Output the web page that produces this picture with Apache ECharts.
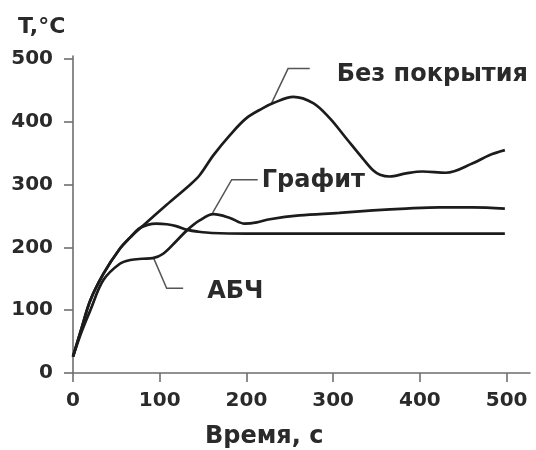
<!DOCTYPE html>
<html>
<head>
<meta charset="utf-8">
<script src="https://cdn.jsdelivr.net/npm/echarts@6/dist/echarts.min.js"></script>
<style>
  html, body { margin: 0; padding: 0; background: #fff; }
  #chart { width: 536px; height: 450px; }
</style>
</head>
<body>
<div id="chart"></div>
<script>
// values (time in s, temperature in °C)
const bareTime = [0, 10, 20, 35, 54, 66, 81, 108, 135, 146, 162, 181, 200, 219, 231, 254, 277, 296, 315, 334, 346, 354, 365, 384, 403, 430, 461, 480, 498];
const bareTemp = [26, 72, 116, 158, 198, 216, 235, 268, 300, 315, 347, 379, 406, 422, 430, 440, 430, 406, 374, 342, 323, 316, 313, 318, 321, 319, 334, 347, 355];

const abchTime = [0, 10, 20, 35, 54, 66, 76, 86, 96, 108, 119, 132, 145, 160, 200, 300, 400, 498];
const abchTemp = [26, 72, 116, 158, 198, 216, 230, 236, 238, 237, 234, 228, 225, 223, 222, 222, 222, 222];

const graphTime = [0, 10, 20, 35, 54, 66, 80, 92, 104, 119, 132, 146, 162, 181, 198, 212, 227, 261, 307, 346, 384, 423, 461, 498];
const graphTemp = [26, 66, 100, 148, 174, 180, 182, 183, 190, 210, 228, 243, 253, 247, 238, 240, 245, 251, 255, 259, 262, 264, 264, 262];

const xTicks = [0, 100, 200, 300, 400, 500];
const yTicks = [0, 100, 200, 300, 400, 500];

// callouts: [label, point on curve, elbow, end of leader, text offset in px]
const callouts = [
  ['Без покрытия', [229, 430], [248, 485], [273, 485], [27, 6]],
  ['Графит', [161, 255], [183, 308], [213, 308], [4, 1]],
  ['АБЧ', [93, 183], [108, 135], [127, 135], [24, 4]]
];

const zip = (xs, ys) => xs.map((x, i) => [x, ys[i]]);

const FONT = 'DejaVu Sans';
const INK = '#1c1c1c';
const TEXT = '#2a2a2a';

const lineSeries = (name, data) => ({
  name: name,
  type: 'line',
  data: data,
  smooth: 0.35,
  symbol: 'none',
  lineStyle: { color: INK, width: 2.7 },
  silent: true
});

const chart = echarts.init(document.getElementById('chart'));

chart.setOption({
  animation: false,
  grid: { left: 73, right: 6, top: 56, bottom: 77 },
  xAxis: {
    type: 'value',
    min: 0,
    max: 527,
    axisLine: { lineStyle: { color: '#6e6e6e', width: 1.6 } },
    axisTick: { customValues: xTicks, length: 9, lineStyle: { color: '#6e6e6e', width: 1.6 } },
    axisLabel: { customValues: xTicks, margin: 18, color: TEXT, fontFamily: FONT, fontWeight: 'bold', fontSize: 20 },
    splitLine: { show: false }
  },
  yAxis: {
    type: 'value',
    min: 0,
    max: 505,
    axisLine: { show: true, lineStyle: { color: '#6e6e6e', width: 1.6 } },
    axisTick: { show: true, customValues: yTicks, length: 9, lineStyle: { color: '#6e6e6e', width: 1.6 } },
    axisLabel: { customValues: yTicks, margin: 20, color: TEXT, fontFamily: FONT, fontWeight: 'bold', fontSize: 20 },
    splitLine: { show: false }
  },
  series: [
    lineSeries('Без покрытия', zip(bareTime, bareTemp)),
    lineSeries('АБЧ', zip(abchTime, abchTemp)),
    lineSeries('Графит', zip(graphTime, graphTemp))
  ]
});

// axis titles and callouts, all in one graphic list
const graphics = [
  {
    type: 'text', x: 18, y: 27,
    style: { text: 'T,°C', fill: TEXT, fontFamily: FONT, fontWeight: 'bold', fontSize: 22, verticalAlign: 'middle' }
  },
  {
    type: 'text', x: 205, y: 437,
    style: { text: 'Время, с', fill: TEXT, fontFamily: FONT, fontWeight: 'bold', fontSize: 24, verticalAlign: 'middle' }
  }
];
callouts.forEach(function (c) {
  const pts = [c[1], c[2], c[3]].map(function (p) {
    return chart.convertToPixel({ gridIndex: 0 }, p);
  });
  graphics.push({
    type: 'polyline',
    shape: { points: pts },
    style: { stroke: '#555', lineWidth: 1.5, fill: null },
    silent: true
  });
  const end = pts[2];
  graphics.push({
    type: 'text',
    x: end[0] + c[4][0],
    y: end[1] + c[4][1],
    style: {
      text: c[0], fill: TEXT, fontFamily: FONT, fontWeight: 'bold', fontSize: 24,
      verticalAlign: 'middle', align: 'left'
    },
    silent: true
  });
});
chart.setOption({ graphic: graphics });
</script>
</body>
</html>
